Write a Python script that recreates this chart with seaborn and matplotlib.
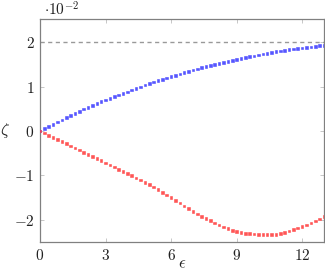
import numpy as np
import pandas as pd
import matplotlib
matplotlib.use("Agg")
import matplotlib.pyplot as plt
import seaborn as sns
from matplotlib.ticker import FuncFormatter

eps = [round(0.2 * i, 1) for i in range(66)]
zeta_upper = [0.000, 0.050, 0.100, 0.150, 0.200, 0.250, 0.298, 0.346, 0.394, 0.442,
              0.490, 0.533, 0.576, 0.618, 0.659, 0.700, 0.737, 0.774, 0.810, 0.845,
              0.880, 0.918, 0.956, 0.993, 1.031, 1.068, 1.099, 1.130, 1.160, 1.190,
              1.220, 1.251, 1.281, 1.311, 1.340, 1.370, 1.397, 1.423, 1.449, 1.475,
              1.500, 1.523, 1.545, 1.567, 1.589, 1.610, 1.631, 1.651, 1.671, 1.691,
              1.710, 1.729, 1.747, 1.765, 1.783, 1.800, 1.815, 1.829, 1.843, 1.857,
              1.870, 1.882, 1.894, 1.906, 1.918, 1.930]
zeta_lower = [0.000, -0.048, -0.096, -0.144, -0.192, -0.240, -0.288, -0.336, -0.384, -0.432,
              -0.480, -0.528, -0.576, -0.624, -0.672, -0.720, -0.768, -0.816, -0.864, -0.912,
              -0.960, -1.008, -1.057, -1.107, -1.158, -1.210, -1.266, -1.323, -1.381, -1.440,
              -1.500, -1.562, -1.624, -1.686, -1.748, -1.810, -1.866, -1.920, -1.972, -2.022,
              -2.070, -2.115, -2.160, -2.200, -2.245, -2.270, -2.288, -2.303, -2.315, -2.323,
              -2.330, -2.335, -2.337, -2.335, -2.325, -2.305, -2.285, -2.255, -2.220, -2.185,
              -2.150, -2.115, -2.070, -2.025, -1.980, -1.930]
ref_level = 2.0
x_ticks = [0, 3, 6, 9, 12]
y_ticks = [-2, -1, 0, 1, 2]

sns.set_style("ticks")
plt.rcParams["mathtext.fontset"] = "cm"
plt.rcParams["font.family"] = ["DejaVu Serif"]

df = pd.DataFrame({
    "eps": eps * 2,
    "zeta": zeta_upper + zeta_lower,
    "branch": ["upper"] * len(eps) + ["lower"] * len(eps),
})

fig = plt.figure(figsize=(3.25, 2.74), dpi=100)
ax = fig.add_axes([40 / 325, 1 - 242 / 274, 284 / 325, 223 / 274])

ax.axhline(ref_level, color="#999999", lw=1.0, ls=(0, (3, 2.5)), zorder=1)

sns.scatterplot(data=df, x="eps", y="zeta", hue="branch",
                palette={"upper": "#4444ff", "lower": "#ff4444"},
                marker="s", s=3.5, linewidth=0.4, alpha=0.9,
                legend=False, ax=ax, zorder=3)
for coll in ax.collections:
    fc = coll.get_facecolors()
    fc[:, 3] = 0.5
    coll.set_edgecolors(fc)

ax.set_xlim(0, 13)
ax.set_ylim(-2.5, 2.52)
ax.set_xticks(x_ticks)
ax.set_yticks(y_ticks)
fmt = FuncFormatter(lambda v, p: r"$%d$" % v if v >= 0 else r"$-%d$" % (-v))
ax.xaxis.set_major_formatter(fmt)
ax.yaxis.set_major_formatter(fmt)
ax.tick_params(direction="in", length=3, width=0.5, color="#b0b0b0",
               top=True, right=True, labelsize=11, pad=4, labelcolor="#222222")
for sp in ax.spines.values():
    sp.set_color("#808080")
    sp.set_linewidth(0.9)

ax.set_xlabel(r"$\epsilon$", fontsize=12, color="#222222")
ax.xaxis.set_label_coords(0.5, -0.058)
ax.set_ylabel(r"$\zeta$", fontsize=12, labelpad=6, rotation=0, va="center", color="#222222")
fig.text(44 / 325, 1 - 10 / 274, r"$\cdot 10^{-2}$", fontsize=11,
         ha="left", va="center", color="#222222")

fig.savefig("out.png", dpi=100)
